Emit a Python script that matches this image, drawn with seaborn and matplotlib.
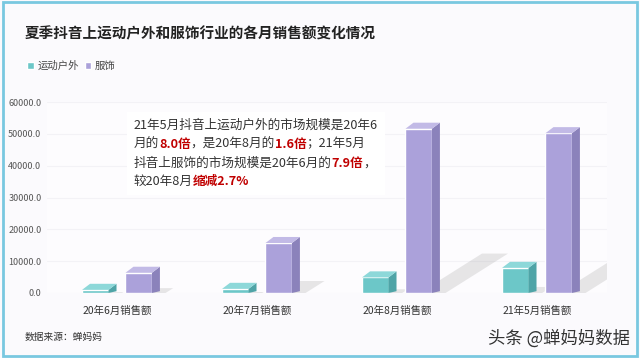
import pandas as pd
import matplotlib.pyplot as plt
import seaborn as sns
from matplotlib.patches import Polygon, Rectangle
from matplotlib.offsetbox import TextArea, HPacker, VPacker, AnchoredOffsetbox

# data
months = ['20年6月销售额', '20年7月销售额', '20年8月销售额', '21年5月销售额']
outdoor = [990, 1300, 4900, 7900]
clothing = [6350, 15700, 51600, 50200]
series = ['运动户外', '服饰']
yticks = [0, 10000, 20000, 30000, 40000, 50000, 60000]

colors = {'运动户外': '#6CC7C8', '服饰': '#ABA1DA'}
side_colors = {'运动户外': '#4FA4A7', '服饰': '#8B82BB'}
top_colors = {'运动户外': '#8DD8D9', '服饰': '#C2BAE6'}

df = pd.DataFrame({
    'month': months * 2,
    'series': [series[0]] * 4 + [series[1]] * 4,
    'value': outdoor + clothing,
})

sns.set_theme(style='white')
plt.rcParams['font.family'] = ['Noto Sans CJK SC', 'DejaVu Sans']

fig = plt.figure(figsize=(6.4, 3.58), dpi=100)
fig.patch.set_facecolor('#FBFAFD')
ax = fig.add_axes([47 / 640, 1 - 293 / 358, 560 / 640, 191 / 358])
ax.set_facecolor('#FDFCFE')

sns.barplot(data=df, x='month', y='value', hue='series', palette=colors,
            width=0.62, gap=0.39, ax=ax, legend=True, saturation=1)

# fake 3D: side face, top face and soft shadow from each bar
dx, dy = 0.057, 1900
for cont, name in zip(ax.containers, series):
    for p in cont.patches:
        x0, w, h = p.get_x(), p.get_width(), p.get_height()
        x1 = x0 + w
        sx, sh = 0.45 * h / 52000, 0.24 * h
        ax.add_patch(Polygon([(x0 + 0.1, 0), (x1 + dx + 0.04, 0),
                              (x1 + dx + 0.04 + sx, sh), (x0 + 0.1 + sx, sh)],
                             closed=True, facecolor='#8A8A8A', alpha=0.2,
                             edgecolor='none', zorder=1))
        ax.add_patch(Polygon([(x1, 0), (x1 + dx, dy * 0.3), (x1 + dx, h + dy), (x1, h)],
                             closed=True, facecolor=side_colors[name],
                             edgecolor='none', zorder=3))
        ax.add_patch(Polygon([(x0, h), (x0 + dx, h + dy), (x1 + dx, h + dy), (x1, h)],
                             closed=True, facecolor=top_colors[name],
                             edgecolor='none', zorder=3))
        p.set_zorder(3)

ax.set_xlim(-0.5, 3.5)
ax.set_ylim(0, 60000)
ax.set_yticks(yticks)
ax.set_yticklabels([f'{v:.1f}' for v in yticks], fontsize=6.5, color='#555555')
ax.tick_params(axis='x', labelsize=7.5, labelcolor='#333333', length=0, pad=9)
ax.tick_params(axis='y', length=0, pad=4)
ax.set_xlabel('')
ax.set_ylabel('')
ax.grid(axis='y', color='#F3F2F6', linewidth=0.8)
ax.set_axisbelow(True)
for s in ax.spines.values():
    s.set_visible(False)

sns.move_legend(ax, 'center left', bbox_to_anchor=(18 / 640, 1 - 66 / 358),
                bbox_transform=fig.transFigure, ncol=2, frameon=False, title=None,
                fontsize=7.5, handlelength=0.6, handleheight=0.6,
                handletextpad=0.35, columnspacing=0.6)
for t in ax.get_legend().get_texts():
    t.set_color('#444444')

fig.text(25 / 640, 1 - 33 / 358, '夏季抖音上运动户外和服饰行业的各月销售额变化情况',
         fontsize=10.5, fontweight='bold', color='#222222', va='center')
fig.text(25 / 640, 1 - 337 / 358, '数据来源：蝉妈妈', fontsize=7,
         color='#333333', va='center')
fig.text(630 / 640, 1 - 339 / 358, '头条 @蝉妈妈数据', fontsize=12.5,
         color='#333333', va='center', ha='right')

# annotation box with red highlights
normal = dict(fontsize=9.1, color='#333333')
red = dict(fontsize=9.1, color='#C00000', fontweight='bold')
lines = [
    [('21年5月抖音上运动户外的市场规模是20年6', normal)],
    [('月的', normal), ('8.0倍', red), ('，是20年8月的', normal), ('1.6倍', red),
     ('；21年5月', normal)],
    [('抖音上服饰的市场规模是20年6月的', normal), ('7.9倍', red), ('，', normal)],
    [('较20年8月', normal), ('缩减2.7%', red)],
]
rows = [HPacker(children=[TextArea(s, textprops=pr) for s, pr in ln],
                align='baseline', pad=0, sep=0) for ln in lines]
box = VPacker(children=rows, align='left', pad=0, sep=4.2)
anch = AnchoredOffsetbox(loc='upper left', child=box, pad=0.45, borderpad=0,
                         frameon=True, bbox_to_anchor=(127 / 640, 1 - 112 / 358),
                         bbox_transform=fig.transFigure)
anch.patch.set_facecolor('white')
anch.patch.set_edgecolor('none')
fig.add_artist(anch)

# outer border
fig.add_artist(Rectangle((0.004, 0.006), 0.992, 0.988, transform=fig.transFigure,
                         fill=False, edgecolor='#79C8E0', linewidth=2))

fig.savefig('out.png', dpi=100, facecolor=fig.get_facecolor())
